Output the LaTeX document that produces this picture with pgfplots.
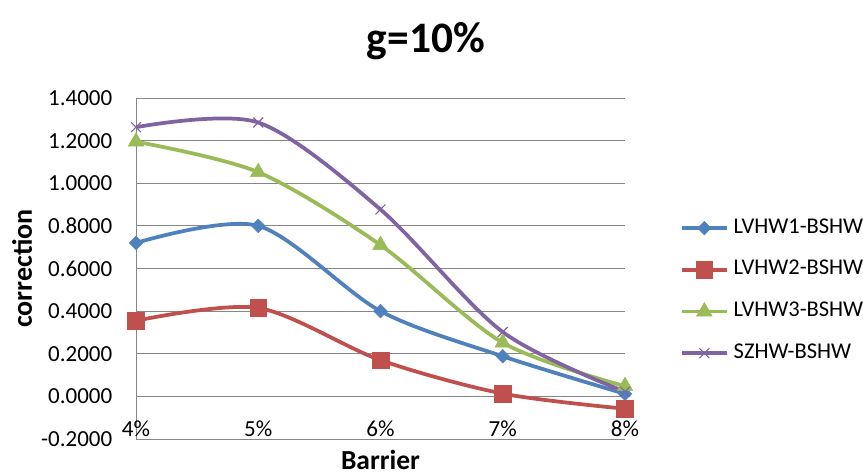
\documentclass[border=0pt]{standalone}
\usepackage{fontspec}
\setmainfont{Carlito}
\usepackage{pgfplots}
\pgfplotsset{compat=1.18}
\definecolor{xlblue}{HTML}{4F81BD}
\definecolor{xlred}{HTML}{C0504D}
\definecolor{xlgreen}{HTML}{9BBB59}
\definecolor{xlpurple}{HTML}{8064A2}
\definecolor{xlgrid}{HTML}{868686}
\begin{document}
\begin{tikzpicture}
\begin{axis}[
  scale only axis,
  width=489pt, height=341pt,
  xmin=0, xmax=4, ymin=-0.2, ymax=1.4,
  xtick={0,1,2,3,4},
  xticklabels={4\%,5\%,6\%,7\%,8\%},
  ytick={-0.2,0,0.2,0.4,0.6,0.8,1.0,1.2,1.4},
  /pgf/number format/assume math mode=true,
  yticklabel style={/pgf/number format/fixed, /pgf/number format/fixed zerofill,
    /pgf/number format/precision=4, anchor=east, inner sep=0pt, xshift=-23.5pt},
  xticklabel style={anchor=base, inner sep=0pt, yshift=3pt},
  tick label style={font=\fontsize{23}{27}\selectfont},
  tick style={draw=none},
  axis lines*=left,
  axis line style={xlgrid, line width=0.8pt},
  ymajorgrids,
  grid style={xlgrid, line width=0.8pt},
  title={g=10\%},
  title style={font=\bfseries\fontsize{43.5}{50}\selectfont, at={(axis description cs:0.593,1)}, anchor=base, yshift=40pt},
  xlabel={Barrier},
  xlabel style={font=\bfseries\fontsize{27.5}{32}\selectfont, at={(axis description cs:0.5,0)}, anchor=base, yshift=-30.5pt},
  ylabel={correction},
  ylabel style={font=\bfseries\fontsize{28}{32}\selectfont, at={(axis description cs:-0.233,0.5)}, anchor=center, rotate=0},
  legend style={at={(axis description cs:1.112,0.435)}, anchor=west, draw=none, fill=none,
    font=\fontsize{22.5}{26}\selectfont, row sep=21.7pt, column sep=5pt, inner sep=0pt,
    nodes={inner sep=0pt, text height=15pt, text depth=5pt}},
  legend cell align=left,
  legend image code/.code={\draw[mark repeat=2, mark phase=2] plot coordinates {(0pt,0pt) (22.5pt,0pt) (45pt,0pt)};},
  every axis plot/.append style={line width=3.75pt, smooth},
]
\addplot[xlblue, mark=square*, mark size=4.8pt, mark options={rotate=45, solid, line width=0.5pt, fill=xlblue}]
  coordinates {(0,0.720) (1,0.800) (2,0.400) (3,0.188) (4,0.012)};
\addlegendentry{LVHW1-BSHW}
\addplot[xlred, mark=square*, mark size=8.3pt, mark options={solid, line width=0.5pt, fill=xlred}]
  coordinates {(0,0.355) (1,0.415) (2,0.170) (3,0.013) (4,-0.058)};
\addlegendentry{LVHW2-BSHW}
\addplot[xlgreen, mark=triangle*, mark size=9pt, mark options={solid, line width=0.5pt, fill=xlgreen}]
  coordinates {(0,1.195) (1,1.052) (2,0.710) (3,0.252) (4,0.048)};
\addlegendentry{LVHW3-BSHW}
\addplot[xlpurple, mark=x, mark size=7pt, mark options={solid, line width=1.1pt}]
  coordinates {(0,1.263) (1,1.285) (2,0.877) (3,0.302) (4,0.022)};
\addlegendentry{SZHW-BSHW}
\end{axis}
\pgfresetboundingbox
\path (current axis.south west) ++(-136pt,-36pt) rectangle ++(863pt,475pt);
\end{tikzpicture}
\end{document}
